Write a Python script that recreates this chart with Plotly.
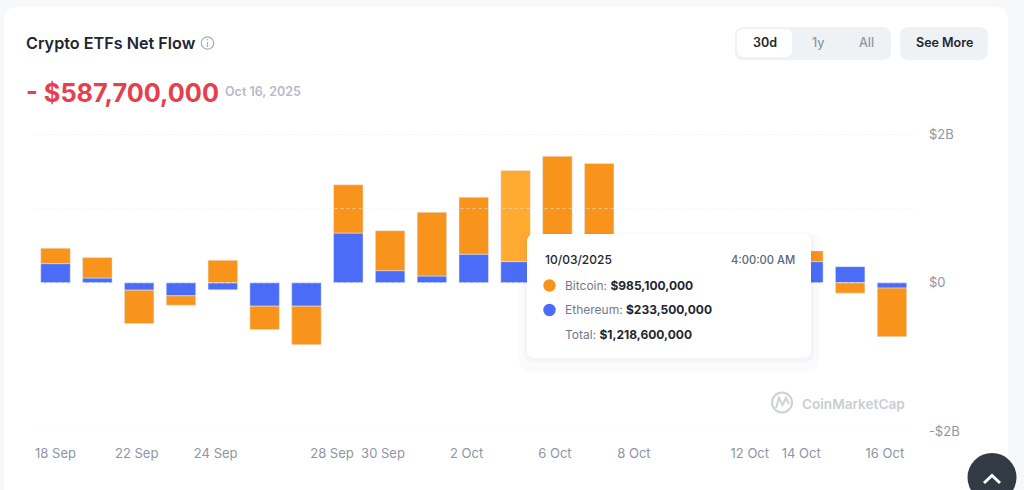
import plotly.graph_objects as go

WIDTH, HEIGHT = 1024, 490

# trading days, values in $B read against the printed axis
# (bars 12-17 sit partly or fully behind the tooltip, so those are estimates)
days = ["18 Sep", "19 Sep", "22 Sep", "23 Sep", "24 Sep", "25 Sep", "26 Sep",
        "29 Sep", "30 Sep", "1 Oct", "2 Oct", "3 Oct", "6 Oct", "7 Oct",
        "8 Oct", "9 Oct", "10 Oct", "13 Oct", "14 Oct", "15 Oct", "16 Oct"]
ethereum = [0.258, 0.064, -0.100, -0.176, -0.095, -0.316, -0.316,
            0.670, 0.163, 0.091, 0.385, 0.285, 0.250, 0.300,
            0.100, 0.050, -0.100, -0.050, 0.285, 0.217, -0.072]
bitcoin = [0.209, 0.275, -0.451, -0.127, 0.304, -0.316, -0.520,
           0.652, 0.538, 0.859, 0.768, 1.231, 1.456, 1.310,
           0.350, 0.400, -0.250, -0.200, 0.145, -0.140, -0.655]

y_ticks = [-2, 0, 2]
y_labels = ["-$2B", "$0", "$2B"]
x_labels = ["18 Sep", "22 Sep", "24 Sep", "28 Sep", "30 Sep", "2 Oct",
            "6 Oct", "8 Oct", "12 Oct", "14 Oct", "16 Oct"]
# the labels do not sit under the bars, they are offset like the source chart
x_ticks = [0, 1.94, 3.83, 6.61, 7.83, 9.83, 11.94, 13.83, 16.6, 17.83, 19.83]

tooltip_rows = [("Bitcoin", "$985,100,000"),
                ("Ethereum", "$233,500,000"),
                ("Total", "$1,218,600,000")]
hovered = days.index("3 Oct")

ORANGE = "#F8931C"
ORANGE_HOVER = "#FFAA30"
BLUE = "#4A6CF7"
DARK = "#222531"
GRAY = "#8E95A5"
FONT = "Inter"


def px(x):
    return x / WIDTH


def py(y):
    return 1 - y / HEIGHT


def round_rect(x0, y0, x1, y1, r):
    """SVG path of a rounded box, given in screen pixels."""
    pts = [("M", x0 + r, y0), ("L", x1 - r, y0), ("Q", x1, y0, x1, y0 + r),
           ("L", x1, y1 - r), ("Q", x1, y1, x1 - r, y1), ("L", x0 + r, y1),
           ("Q", x0, y1, x0, y1 - r), ("L", x0, y0 + r), ("Q", x0, y0, x0 + r, y0)]
    out = []
    for p in pts:
        vals = p[1:]
        coords = [f"{px(vals[i]):.5f},{py(vals[i + 1]):.5f}" for i in range(0, len(vals), 2)]
        out.append(p[0] + " ".join(coords))
    return " ".join(out) + " Z"


def line_path(points):
    return "M" + " L".join(f"{px(x):.5f},{py(y):.5f}" for x, y in points)


def add_box(fig, x0, y0, x1, y1, r, fill, layer="below", line=None):
    fig.add_shape(type="path", xref="paper", yref="paper", path=round_rect(x0, y0, x1, y1, r),
                  fillcolor=fill, line=line or dict(width=0), layer=layer)


def add_circle(fig, cx, cy, r, fill, layer="above", line=None):
    fig.add_shape(type="circle", xref="paper", yref="paper",
                  x0=px(cx - r), x1=px(cx + r), y0=py(cy + r), y1=py(cy - r),
                  fillcolor=fill, line=line or dict(width=0), layer=layer)


def add_text(fig, x, y, text, size, color, anchor="left", weight=400):
    fig.add_annotation(xref="paper", yref="paper", x=px(x), y=py(y), text=text, showarrow=False,
                       xanchor=anchor, yanchor="middle", align="left", borderpad=0,
                       font=dict(family=FONT, size=size, color=color, weight=weight))


x_index = list(range(len(days)))
orange_colors = [ORANGE_HOVER if i == hovered else ORANGE for i in x_index]

fig = go.Figure()
fig.add_trace(go.Bar(x=x_index, y=ethereum, name="Ethereum", marker_color=BLUE, width=0.705))
fig.add_trace(go.Bar(x=x_index, y=bitcoin, name="Bitcoin", marker_color=orange_colors, width=0.705))

fig.update_layout(
    width=WIDTH, height=HEIGHT,
    barmode="relative",
    showlegend=False,
    margin=dict(l=0, r=0, t=0, b=0, autoexpand=False),
    paper_bgcolor="#F7F8FA",
    plot_bgcolor="rgba(0,0,0,0)",
    font=dict(family=FONT),
)
fig.update_xaxes(
    domain=[px(34.6), px(912.9)], range=[-0.5, 20.5],
    tickmode="array", tickvals=x_ticks, ticktext=x_labels,
    showgrid=False, zeroline=False, showline=False, ticks="",
    tickfont=dict(family=FONT, size=13, color=GRAY),
    ticklabelstandoff=13,
)
fig.update_yaxes(
    domain=[py(431), py(134.5)], range=[-2, 2], side="right",
    tickmode="array", tickvals=y_ticks, ticktext=y_labels,
    showgrid=False, zeroline=False, showline=False, ticks="",
    tickfont=dict(family=FONT, size=13, color=GRAY),
    ticklabelstandoff=15,
)

# white card and the header controls
add_box(fig, 4, 7, 1008, 520, 14, "#FFFFFF")
add_box(fig, 735, 27, 891, 60, 9, "#EFF2F5")
add_box(fig, 737, 29, 792, 57, 7, "#FFFFFF")
add_box(fig, 900, 27, 988, 60, 9, "#EFF2F5")

# dotted gridlines run over the bars, the top one is a bit stronger
fig.add_hline(y=2, line=dict(color="rgba(222,226,232,0.8)", width=1, dash="dot"), layer="above")
for level in [1, 0, -2]:
    fig.add_hline(y=level, line=dict(color="rgba(238,240,244,0.6)", width=1, dash="dot"), layer="above")

# tooltip, it hides the bars behind it
add_box(fig, 519, 232, 819, 372, 12, "rgba(88,102,126,0.025)", layer="above")
add_box(fig, 524, 234, 814, 362, 10, "rgba(88,102,126,0.04)", layer="above")
add_box(fig, 527, 234, 811, 358, 8, "#FFFFFF", layer="above")
add_circle(fig, 549.5, 285.5, 6.2, ORANGE)
add_circle(fig, 549.5, 310, 6.2, BLUE)

# scroll to top button
add_circle(fig, 992, 477.5, 24.5, "#323A46")
fig.add_shape(type="path", xref="paper", yref="paper", layer="above",
              path=line_path([(984, 483), (992, 475.5), (1000, 483)]),
              line=dict(color="#FFFFFF", width=3))

# info icon next to the title
add_circle(fig, 207.5, 43, 6.2, "rgba(0,0,0,0)", line=dict(color="#A6ACB9", width=1.2))
fig.add_shape(type="path", xref="paper", yref="paper", layer="above",
              path=line_path([(207.5, 42), (207.5, 47)]), line=dict(color="#A6ACB9", width=1.2))
add_circle(fig, 207.5, 39.8, 0.7, "#A6ACB9")

# watermark
add_circle(fig, 782, 402.5, 10, "rgba(0,0,0,0)", line=dict(color="#CDD1D8", width=2))
fig.add_shape(type="path", xref="paper", yref="paper", layer="above",
              path=line_path([(776, 408), (779, 398), (782.5, 405), (786, 398), (789, 404)]),
              line=dict(color="#CDD1D8", width=2))
add_text(fig, 801, 403.5, "CoinMarketCap", 13.6, "#C9CDD4", weight=600)

add_text(fig, 25, 43, "Crypto ETFs Net Flow", 16.2, DARK, weight=600)
add_text(fig, 25, 92, "- $587,700,000", 25.3, "#E5404B", weight=700)
add_text(fig, 224, 91.5, "Oct 16, 2025", 12.5, "#B5BAC6", weight=600)

add_text(fig, 764.5, 43, "30d", 12.5, DARK, "center", 600)
add_text(fig, 817.5, 43, "1y", 12.5, GRAY, "center", 500)
add_text(fig, 866, 43, "All", 12.5, GRAY, "center", 500)
add_text(fig, 944, 43, "See More", 12.5, DARK, "center", 600)

add_text(fig, 543.5, 259.5, "10/03/2025", 12, DARK, weight=500)
add_text(fig, 796, 259.5, "4:00:00 AM", 11.2, "#58667E", "right", 500)
for row_y, (label, amount) in zip([285, 309.5, 334], tooltip_rows):
    add_text(fig, 564, row_y,
             f'<span style="color:#6F7A8F">{label}:</span> <b>{amount}</b>', 12, DARK)

fig.write_html("out.html", config=dict(displayModeBar=False),
               post_script="document.body.style.margin='0';")
